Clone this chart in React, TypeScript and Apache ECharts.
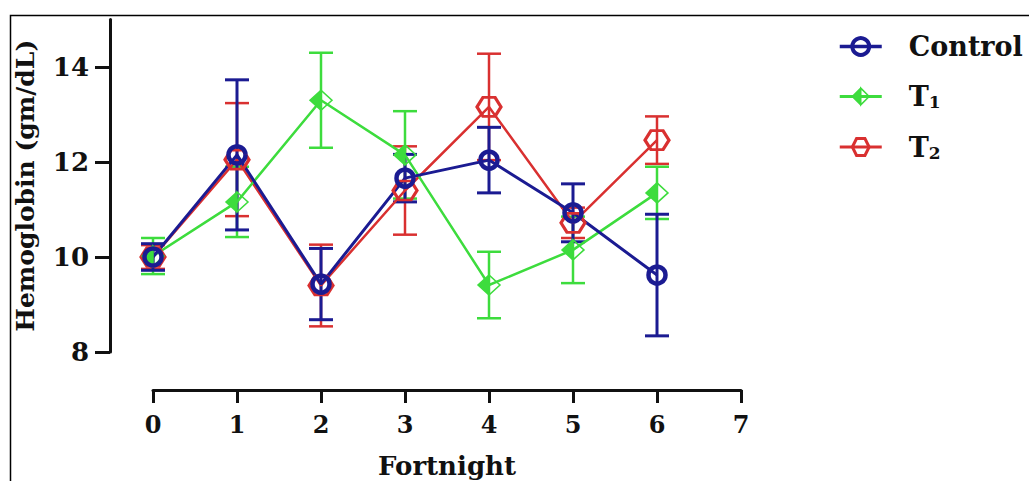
import React, { useEffect, useRef } from "react";
import * as echarts from "echarts";

// ---- data ----
const fortnights = [0, 1, 2, 3, 4, 5, 6];
const xTicks = [0, 1, 2, 3, 4, 5, 6, 7];
const yTicks = [8, 10, 12, 14];
const seriesNames = ["Control", "T1", "T2"];

const controlMean = [10.0, 12.15, 9.43, 11.66, 12.04, 10.93, 9.62];
const controlErr = [0.28, 1.58, 0.75, 0.5, 0.69, 0.61, 1.28];
const t1Mean = [10.02, 11.16, 13.3, 12.15, 9.41, 10.15, 11.35];
const t1Err = [0.38, 0.74, 1.0, 0.92, 0.7, 0.7, 0.55];
const t2Mean = [10.0, 12.05, 9.4, 11.4, 13.16, 10.72, 12.46];
const t2Err = [0.25, 1.19, 0.86, 0.93, 1.12, 0.32, 0.5];

const NAVY = "#1b1b92";
const GREEN = "#3ddc3d";
const RED = "#d93030";
const FONT = "DejaVu Serif";

const DIAMOND = "path://M0,-10L10,0L0,10L-10,0Z M0,-10L0,10L10,0Z";
const HEXAGON = "path://M-10,0L-5,-8.66L5,-8.66L10,0L5,8.66L-5,8.66Z";

function lineData(mean: number[]) {
  return fortnights.map((x, i) => [x, mean[i]]);
}
function errData(mean: number[], err: number[]) {
  return fortnights.map((x, i) => [x, mean[i] - err[i], mean[i] + err[i]]);
}

function errRender(color: string, lw: number) {
  return (params: any, api: any) => {
    const x = api.value(0);
    const pLo = api.coord([x, api.value(1)]);
    const pHi = api.coord([x, api.value(2)]);
    const hw = 12;
    const style = { stroke: color, lineWidth: lw, fill: "none" };
    return {
      type: "group",
      children: [
        { type: "line", shape: { x1: pHi[0], y1: pHi[1], x2: pLo[0], y2: pLo[1] }, style },
        { type: "line", shape: { x1: pHi[0] - hw, y1: pHi[1], x2: pHi[0] + hw, y2: pHi[1] }, style },
        { type: "line", shape: { x1: pLo[0] - hw, y1: pLo[1], x2: pLo[0] + hw, y2: pLo[1] }, style },
      ],
    };
  };
}

function errSeries(name: string, mean: number[], err: number[], color: string, lw: number) {
  return {
    type: "custom",
    name,
    data: errData(mean, err),
    encode: { x: 0, y: [1, 2] },
    renderItem: errRender(color, lw),
    silent: true,
  };
}

export default function App() {
  const ref = useRef<HTMLDivElement>(null);
  useEffect(() => {
    if (!ref.current) return;
    const chart = echarts.init(ref.current, undefined, { renderer: "svg" });
    const axisColor = "#111";
    const option: any = {
      animation: false,
      backgroundColor: "#fff",
      grid: { left: 153, right: 288, top: 19.5, bottom: 129, outerBoundsMode: "none" },
      graphic: [
        {
          type: "rect",
          silent: true,
          z: -10,
          shape: { x: 10.5, y: 15.5, width: 1200, height: 700 },
          style: { fill: "none", stroke: "#000", lineWidth: 1.5 },
        },
      ],
      legend: {
        orient: "vertical",
        left: 833,
        top: 28,
        itemWidth: 42,
        itemHeight: 21,
        itemGap: 23,
        data: [
          { name: "Control", itemStyle: { borderWidth: 4 }, lineStyle: { width: 3.5 } },
          { name: "T1", itemStyle: { borderWidth: 1.5 }, lineStyle: { width: 3 } },
          { name: "T2", itemStyle: { borderWidth: 3 }, lineStyle: { width: 3 } },
        ],
        formatter: (n: string) =>
          n === "Control" ? "{b|Control}" : "{b|T}{s|" + n.slice(1) + "}",
        textStyle: {
          color: axisColor,
          fontFamily: FONT,
          fontWeight: "bold",
          fontSize: 27,
          rich: {
            b: { fontFamily: FONT, fontWeight: "bold", fontSize: 27, lineHeight: 28, color: axisColor, padding: [0, 0, 0, 22] },
            s: { fontFamily: FONT, fontWeight: "bold", fontSize: 17, lineHeight: 12, color: axisColor, verticalAlign: "bottom" },
          },
        },
      },
      xAxis: {
        type: "value",
        min: 0,
        max: 7,
        interval: 1,
        offset: 38,
        name: "Fortnight",
        nameLocation: "middle",
        nameGap: 63,
        nameTextStyle: { fontFamily: FONT, fontWeight: "bold", fontSize: 26, color: axisColor },
        splitLine: { show: false },
        axisLine: { onZero: false, lineStyle: { color: axisColor, width: 3 } },
        axisTick: { length: 13, lineStyle: { color: axisColor, width: 3 }, customValues: xTicks },
        axisLabel: {
          margin: 22,
          fontFamily: FONT,
          fontWeight: "bold",
          fontSize: 24,
          color: axisColor,
          customValues: xTicks,
        },
      },
      yAxis: {
        type: "value",
        min: 8,
        max: 15,
        interval: 2,
        offset: 43,
        name: "Hemoglobin (gm/dL)",
        nameLocation: "middle",
        nameGap: 72,
        nameTextStyle: { fontFamily: FONT, fontWeight: "bold", fontSize: 25, color: axisColor },
        splitLine: { show: false },
        axisLine: { show: true, onZero: false, lineStyle: { color: axisColor, width: 3 } },
        axisTick: { show: true, length: 15, lineStyle: { color: axisColor, width: 3 }, customValues: yTicks },
        axisLabel: {
          margin: 21,
          fontFamily: FONT,
          fontWeight: "bold",
          fontSize: 26,
          color: axisColor,
          customValues: yTicks,
        },
      },
      series: [
        errSeries("T2 err", t2Mean, t2Err, RED, 2.5),
        {
          type: "line",
          name: "T2",
          data: lineData(t2Mean),
          symbol: HEXAGON,
          symbolSize: [24, 19],
          lineStyle: { color: RED, width: 2.5 },
          itemStyle: { color: "rgba(255,255,255,0)", borderColor: RED, borderWidth: 3 },
        },
        errSeries("T1 err", t1Mean, t1Err, GREEN, 2.5),
        {
          type: "line",
          name: "T1",
          data: lineData(t1Mean),
          symbol: DIAMOND,
          symbolSize: [22, 20],
          lineStyle: { color: GREEN, width: 2.5 },
          itemStyle: { color: GREEN, borderColor: GREEN, borderWidth: 1.5 },
        },
        errSeries("Control err", controlMean, controlErr, NAVY, 3),
        {
          type: "line",
          name: "Control",
          data: lineData(controlMean),
          symbol: "circle",
          symbolSize: 17,
          lineStyle: { color: NAVY, width: 3 },
          itemStyle: { color: "rgba(255,255,255,0)", borderColor: NAVY, borderWidth: 4.5 },
        },
      ],
    };
    chart.setOption(option);
    return () => chart.dispose();
  }, []);
  return (
    <div
      ref={ref}
      style={{ position: "absolute", left: 0, top: 0, width: 1029, height: 481 }}
    />
  );
}
